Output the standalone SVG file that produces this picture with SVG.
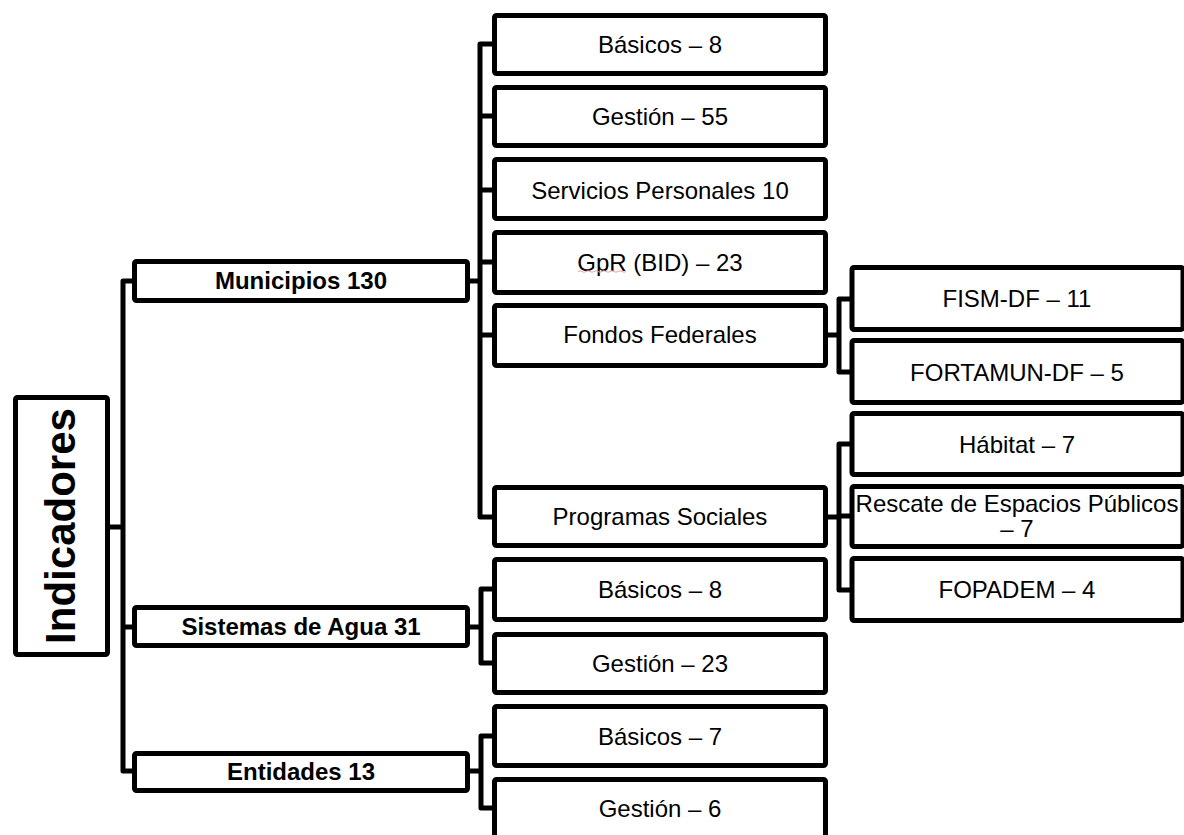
<svg xmlns="http://www.w3.org/2000/svg" width="1184" height="835" viewBox="0 0 1184 835">
  <style>
    .box { fill: #ffffff; stroke: #000000; stroke-width: 5; stroke-linejoin: round; }
    .wire { fill: none; stroke: #000000; stroke-width: 5; stroke-linejoin: round; }
    .t { font-family: "Liberation Sans", Arial, sans-serif; font-size: 24px; fill: #000000; text-anchor: middle; }
    .b { font-weight: bold; }
    .root { font-family: "Liberation Sans", Arial, sans-serif; font-size: 42px; font-weight: bold; fill: #000000; text-anchor: middle; }
  </style>
  <rect width="1184" height="835" fill="#ffffff"/>

  <!-- connectors -->
  <g id="connectors">
    <!-- root trunk -->
    <path class="wire" d="M134 281 H123 V771 H134"/>
    <path class="wire" d="M108 527 H123"/>
    <path class="wire" d="M123 627 H134"/>
    <!-- Municipios branch -->
    <path class="wire" d="M469 281 H480"/>
    <path class="wire" d="M493 44 H480 V517 H493"/>
    <path class="wire" d="M480 116 H493 M480 190 H493 M480 262 H493 M480 335 H493"/>
    <!-- Sistemas de Agua branch -->
    <path class="wire" d="M469 627 H481"/>
    <path class="wire" d="M493 589 H481 V663 H493"/>
    <!-- Entidades branch -->
    <path class="wire" d="M469 771 H481"/>
    <path class="wire" d="M493 736 H481 V808 H493"/>
    <!-- Fondos Federales branch -->
    <path class="wire" d="M827 335 H839"/>
    <path class="wire" d="M852 299 H839 V372 H852"/>
    <!-- Programas Sociales branch -->
    <path class="wire" d="M827 517 H839"/>
    <path class="wire" d="M852 444 H839 V590 H852"/>
    <path class="wire" d="M839 516 H852"/>
  </g>

  <!-- root -->
  <g id="indicadores">
    <rect class="box" x="15.5" y="397.5" width="92" height="257" rx="2"/>
    <text class="root" transform="translate(75,526) rotate(-90)">Indicadores</text>
  </g>

  <!-- level 1 -->
  <g id="municipios">
    <rect class="box" x="134.5" y="261.5" width="333" height="39" rx="2"/>
    <text class="t b" x="301" y="289">Municipios 130</text>
  </g>
  <g id="sistemas-agua">
    <rect class="box" x="134.5" y="607.5" width="333" height="38" rx="2"/>
    <text class="t b" x="301" y="635">Sistemas de Agua 31</text>
  </g>
  <g id="entidades">
    <rect class="box" x="134.5" y="753.5" width="333" height="37" rx="2"/>
    <text class="t b" x="301" y="780">Entidades 13</text>
  </g>

  <!-- level 2: Municipios -->
  <g id="mun-basicos">
    <rect class="box" x="494.5" y="15.5" width="331" height="58" rx="2"/>
    <text class="t" x="660" y="53">Básicos – 8</text>
  </g>
  <g id="mun-gestion">
    <rect class="box" x="494.5" y="87.5" width="331" height="58" rx="2"/>
    <text class="t" x="660" y="125">Gestión – 55</text>
  </g>
  <g id="mun-servicios">
    <rect class="box" x="494.5" y="159.5" width="331" height="59" rx="2"/>
    <text class="t" x="660" y="199">Servicios Personales 10</text>
  </g>
  <g id="mun-gpr">
    <rect class="box" x="494.5" y="232.5" width="331" height="60" rx="2"/>
    <text class="t" x="660" y="271">GpR (BID) – 23</text>
    <path d="M578 271.5 q2 -1.5 4 0 t4 0 t4 0 t4 0 t4 0 t4 0 t4 0 t4 0 t4 0 t4 0 t4 0 t4 0" fill="none" stroke="#e7a3a8" stroke-width="1"/>
  </g>
  <g id="mun-fondos">
    <rect class="box" x="494.5" y="305.5" width="331" height="60" rx="2"/>
    <text class="t" x="660" y="343">Fondos Federales</text>
  </g>
  <g id="mun-programas">
    <rect class="box" x="494.5" y="487.5" width="331" height="58" rx="2"/>
    <text class="t" x="660" y="525">Programas Sociales</text>
  </g>

  <!-- level 2: Sistemas de Agua -->
  <g id="agua-basicos">
    <rect class="box" x="494.5" y="559.5" width="331" height="60" rx="2"/>
    <text class="t" x="660" y="598">Básicos – 8</text>
  </g>
  <g id="agua-gestion">
    <rect class="box" x="494.5" y="634.5" width="331" height="58" rx="2"/>
    <text class="t" x="660" y="672">Gestión – 23</text>
  </g>

  <!-- level 2: Entidades -->
  <g id="ent-basicos">
    <rect class="box" x="494.5" y="706.5" width="331" height="59" rx="2"/>
    <text class="t" x="660" y="745">Básicos – 7</text>
  </g>
  <g id="ent-gestion">
    <rect class="box" x="494.5" y="779.5" width="331" height="62" rx="2"/>
    <text class="t" x="660" y="817">Gestión – 6</text>
  </g>

  <!-- level 3: Fondos Federales -->
  <g id="fism">
    <rect class="box" x="852" y="267.5" width="331" height="62" rx="2"/>
    <text class="t" x="1017" y="307">FISM-DF – 11</text>
  </g>
  <g id="fortamun">
    <rect class="box" x="852" y="340.5" width="331" height="62" rx="2"/>
    <text class="t" x="1017" y="381">FORTAMUN-DF – 5</text>
  </g>

  <!-- level 3: Programas Sociales -->
  <g id="habitat">
    <rect class="box" x="852" y="413.5" width="331" height="61" rx="2"/>
    <text class="t" x="1017" y="453">Hábitat – 7</text>
  </g>
  <g id="rescate">
    <rect class="box" x="852" y="486.5" width="331" height="60" rx="2"/>
    <text class="t" x="1017" y="512">Rescate de Espacios Públicos</text>
    <text class="t" x="1017" y="537">– 7</text>
  </g>
  <g id="fopadem">
    <rect class="box" x="852" y="558.5" width="331" height="62" rx="2"/>
    <text class="t" x="1017" y="598">FOPADEM – 4</text>
  </g>
</svg>
